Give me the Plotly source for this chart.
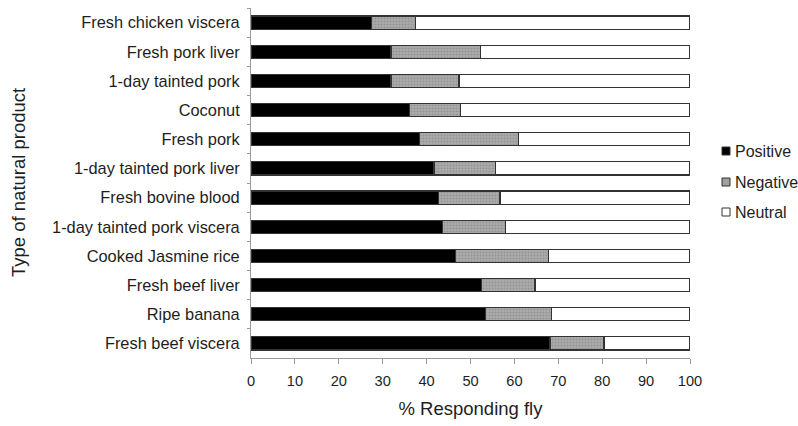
import plotly.graph_objects as go

categories = ["Fresh chicken viscera", "Fresh pork liver", "1-day tainted pork", "Coconut",
              "Fresh pork", "1-day tainted pork liver", "Fresh bovine blood",
              "1-day tainted pork viscera", "Cooked Jasmine rice", "Fresh beef liver",
              "Ripe banana", "Fresh beef viscera"]
positive = [27.4, 31.9, 31.9, 36.1, 38.3, 41.7, 42.8, 43.6, 46.5, 52.5, 53.5, 68.1]
negative = [10.0, 20.4, 15.5, 11.7, 22.6, 14.0, 13.9, 14.4, 21.3, 12.2, 15.0, 12.3]
neutral = [62.6, 47.7, 52.6, 52.2, 39.1, 44.3, 43.3, 42.0, 32.2, 35.3, 31.5, 19.6]
x_ticks = [0, 10, 20, 30, 40, 50, 60, 70, 80, 90, 100]
series_names = ["Positive", "Negative", "Neutral"]
series_colors = ["#000000", "#a0a0a0", "#ffffff"]

FONT = "Liberation Sans, Arial, sans-serif"
TXT = "#1e1e1e"
line = dict(color="#333333", width=1.2)

W, H = 798, 426
L, R, T, B = 251, 108, 8, 68
PW, PH = W - L - R, H - T - B

fig = go.Figure()
fig.add_trace(go.Bar(y=categories, x=positive, name=series_names[0], orientation="h",
                     marker=dict(color=series_colors[0], line=line)))
fig.add_trace(go.Bar(y=categories, x=negative, name=series_names[1], orientation="h",
                     marker=dict(color=series_colors[1], line=line,
                                 pattern=dict(shape=".", fgcolor="#7a7a7a", bgcolor="#adadad",
                                              size=3, solidity=0.4))))
fig.add_trace(go.Bar(y=categories, x=neutral, name=series_names[2], orientation="h",
                     marker=dict(color=series_colors[2], line=line)))

# manual legend (to match compact marker/text spacing)
shapes = []
annotations = []
legend_y_px = [151, 182, 212]
for name, col, ypx in zip(series_names, series_colors, legend_y_px):
    x0 = (722 - L) / PW
    x1 = (730 - L) / PW
    y0 = (H - B - (ypx + 4)) / PH
    y1 = (H - B - (ypx - 4)) / PH
    shapes.append(dict(type="rect", xref="paper", yref="paper", x0=x0, x1=x1, y0=y0, y1=y1,
                       fillcolor=col, line=dict(color="#333333", width=1)))
    annotations.append(dict(text=name, xref="paper", yref="paper",
                            x=(733 - L) / PW, y=(H - B - ypx) / PH,
                            xanchor="left", yanchor="middle", showarrow=False,
                            font=dict(size=16, color=TXT, family=FONT)))

annotations.append(dict(text="Type of natural product", textangle=-90,
                        xref="paper", yref="paper", x=(18 - L) / PW, y=0.5,
                        xanchor="center", yanchor="middle", showarrow=False,
                        font=dict(size=18.5, color=TXT, family=FONT)))

fig.update_layout(
    width=W, height=H,
    barmode="stack", bargap=0.55,
    showlegend=False,
    margin=dict(l=L, r=R, t=T, b=B, autoexpand=False),
    paper_bgcolor="white", plot_bgcolor="white",
    font=dict(family=FONT, size=16, color=TXT),
    xaxis=dict(range=[0, 100], tickvals=x_ticks, showgrid=False, zeroline=False,
               showline=True, linecolor="#9a9a9a", linewidth=1,
               ticks="outside", ticklen=5, tickcolor="#9a9a9a",
               ticklabelstandoff=4,
               tickfont=dict(size=14.6, color=TXT),
               title=dict(text="% Responding fly", font=dict(size=18.5, color=TXT), standoff=14)),
    yaxis=dict(type="category", autorange="reversed", showgrid=False,
               showline=True, linecolor="#9a9a9a", linewidth=1,
               ticks="outside", ticklen=3, tickcolor="#9a9a9a", tickson="boundaries",
               ticklabelstandoff=7,
               tickfont=dict(size=16.4, color=TXT)),
    shapes=shapes,
    annotations=annotations,
)

fig.write_html("out.html", config={"displayModeBar": False},
               post_script="document.body.style.margin='0';document.body.style.padding='0';")
